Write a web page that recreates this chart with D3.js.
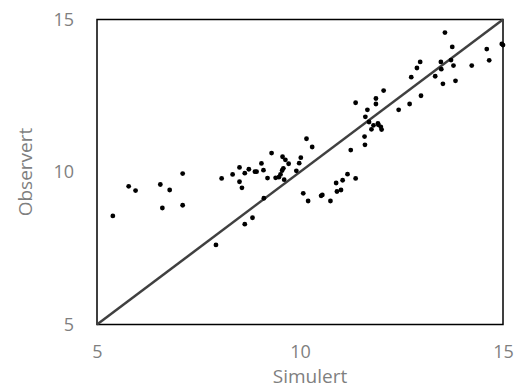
<!DOCTYPE html>
<html>
<head>
<meta charset="utf-8">
<script src="https://cdn.jsdelivr.net/npm/d3@7"></script>
<style>
  body { margin: 0; background: #fff; }
  text { font-family: "Open Sans", sans-serif; fill: #7f7f7f; }
</style>
</head>
<body>
<div id="chart"></div>
<script>
const width = 517, height = 389;
const margin = { top: 19.5, right: 14, bottom: 64.5, left: 97 };

const xTicks = [5, 10, 15];
const yTicks = [5, 10, 15];
const xTitle = "Simulert";
const yTitle = "Observert";

// simulert (x) and observert (y)
const simulert = [
  5.39, 5.78, 5.95, 6.56, 6.79, 6.61, 7.11, 7.11, 7.93, 8.07,
  8.34, 8.51, 8.51, 8.57, 8.64, 8.74, 8.64, 8.83, 8.89, 8.93,
  9.05, 9.10, 9.11, 9.20, 9.30, 9.40, 9.48, 9.52, 9.56, 9.59,
  9.57, 9.64, 9.72, 9.61, 9.91, 9.98, 10.02, 10.16, 10.30, 10.08,
  10.20, 10.52, 10.55, 10.75, 10.89, 10.91, 11.01, 11.05, 11.17, 11.37,
  11.25, 11.37, 11.59, 11.60, 11.61, 11.66, 11.70, 11.76, 11.81, 11.87,
  11.87, 11.92, 11.93, 11.99, 12.01, 12.06, 12.43, 12.70, 12.74, 12.88,
  12.96, 12.98, 13.33, 13.47, 13.48, 13.52, 13.57, 13.72, 13.75, 13.78,
  13.83, 14.23, 14.60, 14.66, 14.97, 15.00
];
const observert = [
  8.56, 9.53, 9.39, 9.59, 9.41, 8.82, 9.95, 8.91, 7.61, 9.79,
  9.92, 10.15, 9.68, 9.48, 9.96, 10.09, 8.29, 8.50, 10.01, 10.01,
  10.28, 10.06, 9.14, 9.80, 10.62, 9.81, 9.83, 9.92, 10.05, 10.12,
  10.50, 10.40, 10.27, 9.75, 10.04, 10.29, 10.47, 11.09, 10.82, 9.30,
  9.05, 9.22, 9.25, 9.05, 9.64, 9.36, 9.41, 9.73, 9.93, 9.79,
  10.72, 12.27, 11.16, 10.89, 11.81, 12.04, 11.64, 11.40, 11.53, 12.41,
  12.23, 11.59, 11.55, 11.48, 11.39, 12.67, 12.04, 12.23, 13.11, 13.41,
  13.61, 12.50, 13.14, 13.61, 13.37, 12.89, 14.57, 13.67, 14.10, 13.49,
  12.99, 13.49, 14.03, 13.66, 14.20, 14.16
];
const points = simulert.map((s, i) => ({ x: s, y: observert[i] }));

const svg = d3.select("#chart").append("svg")
  .attr("width", width)
  .attr("height", height);

const x = d3.scaleLinear().domain([5, 15]).range([margin.left, width - margin.right]);
const y = d3.scaleLinear().domain([5, 15]).range([height - margin.bottom, margin.top]);

// axes, only the labels are visible
svg.append("g")
  .attr("transform", `translate(0,${height - margin.bottom})`)
  .call(d3.axisBottom(x).tickValues(xTicks).tickSize(0).tickPadding(21))
  .call(g => g.select(".domain").remove())
  .selectAll("text")
  .style("font-size", "18px")
  .attr("fill", "#7f7f7f");

svg.append("g")
  .attr("transform", `translate(${margin.left},0)`)
  .call(d3.axisLeft(y).tickValues(yTicks).tickSize(0).tickPadding(23))
  .call(g => g.select(".domain").remove())
  .selectAll("text")
  .style("font-size", "18px")
  .attr("fill", "#7f7f7f");

// plot frame
svg.append("rect")
  .attr("x", x(5))
  .attr("y", y(15))
  .attr("width", x(15) - x(5))
  .attr("height", y(5) - y(15))
  .attr("fill", "none")
  .attr("stroke", "#000")
  .attr("stroke-width", 1.5);

// 1:1 line
svg.append("line")
  .attr("x1", x(5)).attr("y1", y(5))
  .attr("x2", x(15)).attr("y2", y(15))
  .attr("stroke", "#404040")
  .attr("stroke-width", 2.5);

svg.append("g")
  .selectAll("circle")
  .data(points)
  .join("circle")
  .attr("cx", d => x(d.x))
  .attr("cy", d => y(d.y))
  .attr("r", 2.4)
  .attr("fill", "#000");

svg.append("text")
  .attr("x", 310)
  .attr("y", 383)
  .attr("text-anchor", "middle")
  .style("font-size", "19px")
  .text(xTitle);

svg.append("text")
  .attr("transform", `translate(32,172) rotate(-90)`)
  .attr("text-anchor", "middle")
  .style("font-size", "19px")
  .text(yTitle);
</script>
</body>
</html>
